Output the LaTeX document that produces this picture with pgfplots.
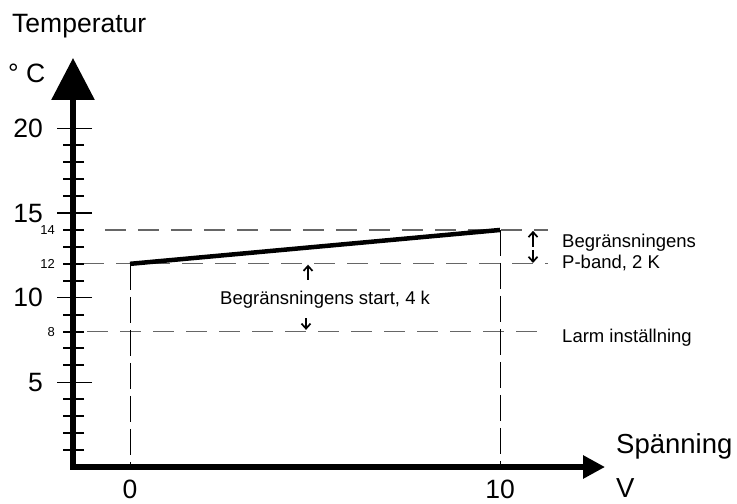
\documentclass[border=0pt]{standalone}
\usepackage{fontspec}
\setmainfont{Liberation Sans}
\usepackage{pgfplots}
\pgfplotsset{compat=1.18}
\usetikzlibrary{arrows.meta}
\newcommand\fs[1]{\fontsize{#1}{#1}\selectfont}
\pgfplotsset{base/.style={
  x=37pt, y=16.93pt, anchor=origin, at={(0pt,0pt)},
  xmin=-1.54, xmax=12.84, ymin=0, ymax=24.16,
  enlargelimits=false, clip=false,
  axis lines=left,
  minor tick num=0,
  major tick length=0pt,
  every tick/.style={draw=none},
  /pgf/number format/assume math mode=true,
}}
\begin{document}
\begin{tikzpicture}
% axis carrying the large tick labels only
\begin{axis}[base,
  axis line style={draw=none},
  xtick=\empty,
  ytick={5,10,15,20},
  yticklabel style={font=\fs{26.5}, anchor=east, inner sep=0pt, xshift=-30pt},
]
\end{axis}
\begin{axis}[base,
  axis line style={line width=6pt, line cap=rect},
  x axis line style={-{Triangle[width=22pt,length=22pt]}},
  y axis line style={-{Triangle[width=42pt,length=42pt]}},
  xtick={0,10},
  ytick={8,12,14},
  xticklabel style={font=\fs{26.5}, anchor=north, inner sep=0pt, yshift=-12.5pt},
  yticklabel style={font=\fs{13}, anchor=east, inner sep=0pt, xshift=-18pt},
]
% tick marks on the temperature axis
\addplot[only marks, mark=-, mark size=10.5pt, mark options={line width=2pt, black}]
  coordinates {(-1.527,1) (-1.527,2) (-1.527,3) (-1.527,4) (-1.527,6) (-1.527,7) (-1.527,8) (-1.527,9)
               (-1.527,11) (-1.527,12) (-1.527,13) (-1.527,14) (-1.527,16) (-1.527,17) (-1.527,18) (-1.527,19)};
\addplot[only marks, mark=-, mark size=17.5pt, mark options={line width=1.5pt, black}]
  coordinates {(-1.5,5) (-1.5,10) (-1.5,15) (-1.5,20)};
% horizontal dashed guides
\addplot[mark=none, black!60, line width=1.3pt, dash pattern=on 21pt off 12pt] coordinates {(-0.676,14) (11.297,14)};
\addplot[mark=none, black!60, line width=1.3pt, dash pattern=on 21pt off 12pt] coordinates {(-1.27,12) (11.297,12)};
\addplot[mark=none, black!60, line width=1.3pt, dash pattern=on 21pt off 12pt] coordinates {(-1.162,8) (11.08,8)};
% vertical dashed guides
\addplot[mark=none, black, line width=1pt, dash pattern=on 26pt off 7pt] coordinates {(0,12) (0,0)};
\addplot[mark=none, black, line width=1pt, dash pattern=on 26pt off 7pt] coordinates {(10,14) (10,0)};
% main characteristic
\addplot[mark=none, black, line width=4.5pt] coordinates {(0,12) (10,14)};
% annotation arrows
\addplot[mark=none, black, line width=1.7pt, -{Straight Barb[length=5pt,width=9pt]}] coordinates {(10.892,13.0) (10.892,13.95)};
\addplot[mark=none, black, line width=1.7pt, -{Straight Barb[length=5pt,width=9pt]}] coordinates {(10.892,12.82) (10.892,12.05)};
\addplot[mark=none, black, line width=1.7pt, -{Straight Barb[length=5pt,width=9pt]}] coordinates {(4.811,11.05) (4.811,11.95)};
\addplot[mark=none, black, line width=1.7pt, -{Straight Barb[length=5pt,width=9pt]}] coordinates {(4.757,8.8) (4.757,8.1)};
% texts
\node[anchor=base west, inner sep=0pt, font=\fs{26.5}] at (axis cs:-3.189,25.635) {Temperatur};
\node[anchor=base west, inner sep=0pt, font=\fs{26.5}] at (axis cs:-3.297,22.74) {° C};
\node[anchor=base west, inner sep=0pt, font=\fs{27.5}] at (axis cs:13.135,0.827) {Spänning};
\node[anchor=base west, inner sep=0pt, font=\fs{27.5}] at (axis cs:13.135,-1.772) {V};
\node[anchor=base west, inner sep=0pt, font=\fs{18.5}] at (axis cs:11.676,12.936) {Begränsningens};
\node[anchor=base west, inner sep=0pt, font=\fs{18.5}] at (axis cs:11.676,11.754) {P-band, 2 K};
\node[anchor=base west, inner sep=0pt, font=\fs{18.5}] at (axis cs:11.676,7.383) {Larm inställning};
\node[anchor=base west, inner sep=0pt, font=\fs{18.5}] at (axis cs:2.432,9.569) {Begränsningens start, 4 k};
\coordinate (bl) at (axis cs:-3.5135,-2.126);
\coordinate (tr) at (axis cs:16.405,27.584);
\end{axis}
\pgfresetboundingbox
\useasboundingbox (bl) rectangle (tr);
\end{tikzpicture}
\end{document}
